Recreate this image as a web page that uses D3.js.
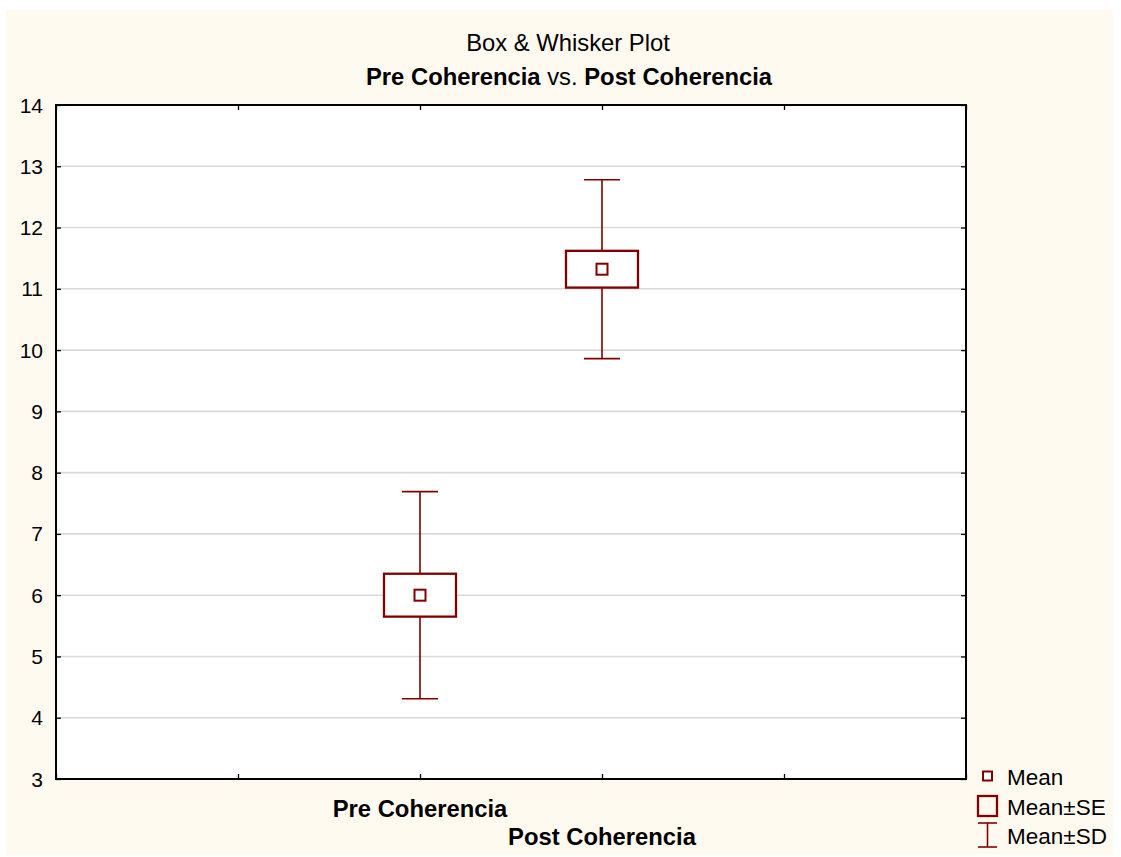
<!DOCTYPE html>
<html>
<head>
<meta charset="utf-8">
<script src="https://cdn.jsdelivr.net/npm/d3@7"></script>
<style>
  html, body { margin: 0; padding: 0; background: #ffffff; }
  svg { display: block; font-family: Arial, "Liberation Sans", sans-serif; }
</style>
</head>
<body>
<svg id="chart" width="1121" height="857"></svg>
<script>
// ---- data ----
const categories = ["Pre Coherencia", "Post Coherencia"];
const means = [6.00, 11.32];
const seValues = [0.35, 0.30];
const sdValues = [1.69, 1.46];
const yTickValues = [3, 4, 5, 6, 7, 8, 9, 10, 11, 12, 13, 14];
const titleLine1 = "Box & Whisker Plot";
const legendLabels = ["Mean", "Mean\u00b1SE", "Mean\u00b1SD"];

// ---- layout ----
const plot = { left: 56, right: 966, top: 105, bottom: 779 };
const dark = "#800000";

const svg = d3.select("#chart");

// cream background
svg.append("rect").attr("x", 6).attr("y", 10).attr("width", 1107).attr("height", 845)
  .attr("fill", "#fffaf0");

// plot area
svg.append("rect").attr("x", plot.left).attr("y", plot.top)
  .attr("width", plot.right - plot.left).attr("height", plot.bottom - plot.top)
  .attr("fill", "#ffffff");

const y = d3.scaleLinear().domain([3, 14]).range([plot.bottom, plot.top]);
const x = d3.scaleLinear().domain([-2, 3]).range([plot.left, plot.right]);
const xTickValues = d3.range(-2, 4);

// gridlines
svg.append("g").selectAll("line")
  .data(yTickValues.filter(v => v > 3 && v < 14))
  .join("line")
  .attr("x1", plot.left).attr("x2", plot.right)
  .attr("y1", d => y(d)).attr("y2", d => y(d))
  .attr("stroke", "#d9d9d9").attr("stroke-width", 1.6);

// axes (ticks inward, mirrored)
const tickLen = 5;
const leftAxis = d3.axisRight(y).tickValues(yTickValues).tickSize(tickLen).tickFormat("");
const rightAxis = d3.axisLeft(y).tickValues(yTickValues).tickSize(tickLen).tickFormat("");
const topAxis = d3.axisBottom(x).tickValues(xTickValues).tickSize(tickLen).tickFormat("");
const bottomAxis = d3.axisTop(x).tickValues(xTickValues).tickSize(tickLen).tickFormat("");

function styleAxis(g) {
  g.select(".domain").remove();
  g.selectAll(".tick line").attr("stroke", "#000").attr("stroke-width", 1.3);
}
svg.append("g").attr("transform", `translate(${plot.left},0)`).call(leftAxis).call(styleAxis);
svg.append("g").attr("transform", `translate(${plot.right},0)`).call(rightAxis).call(styleAxis);
svg.append("g").attr("transform", `translate(0,${plot.top})`).call(topAxis).call(styleAxis);
svg.append("g").attr("transform", `translate(0,${plot.bottom})`).call(bottomAxis).call(styleAxis);

// frame
svg.append("rect").attr("x", plot.left).attr("y", plot.top)
  .attr("width", plot.right - plot.left).attr("height", plot.bottom - plot.top)
  .attr("fill", "none").attr("stroke", "#000").attr("stroke-width", 2);

// y tick labels
svg.append("g").selectAll("text")
  .data(yTickValues)
  .join("text")
  .attr("x", 43).attr("y", d => y(d))
  .attr("dy", "0.36em")
  .attr("text-anchor", "end")
  .attr("font-size", 21)
  .attr("fill", "#000")
  .text(d => d);

// box & whiskers
const boxW = 72, capW = 36, meanSize = 11;
const groups = svg.append("g").selectAll("g")
  .data(categories.map((c, i) => ({ c, i, m: means[i], se: seValues[i], sd: sdValues[i] })))
  .join("g");

groups.append("line")
  .attr("x1", d => x(d.i)).attr("x2", d => x(d.i))
  .attr("y1", d => y(d.m + d.sd)).attr("y2", d => y(d.m + d.se))
  .attr("stroke", dark).attr("stroke-width", 1.6);
groups.append("line")
  .attr("x1", d => x(d.i)).attr("x2", d => x(d.i))
  .attr("y1", d => y(d.m - d.se)).attr("y2", d => y(d.m - d.sd))
  .attr("stroke", dark).attr("stroke-width", 1.6);
groups.append("line")
  .attr("x1", d => x(d.i) - capW / 2).attr("x2", d => x(d.i) + capW / 2)
  .attr("y1", d => y(d.m + d.sd)).attr("y2", d => y(d.m + d.sd))
  .attr("stroke", dark).attr("stroke-width", 1.6);
groups.append("line")
  .attr("x1", d => x(d.i) - capW / 2).attr("x2", d => x(d.i) + capW / 2)
  .attr("y1", d => y(d.m - d.sd)).attr("y2", d => y(d.m - d.sd))
  .attr("stroke", dark).attr("stroke-width", 1.6);
groups.append("rect")
  .attr("x", d => x(d.i) - boxW / 2)
  .attr("y", d => y(d.m + d.se))
  .attr("width", boxW)
  .attr("height", d => y(d.m - d.se) - y(d.m + d.se))
  .attr("fill", "#ffffff").attr("stroke", dark).attr("stroke-width", 2.3);
groups.append("rect")
  .attr("x", d => x(d.i) - meanSize / 2)
  .attr("y", d => y(d.m) - meanSize / 2)
  .attr("width", meanSize).attr("height", meanSize)
  .attr("fill", "#ffffff").attr("stroke", dark).attr("stroke-width", 2);

// category labels (staggered)
svg.append("g").selectAll("text")
  .data(categories)
  .join("text")
  .attr("x", (d, i) => x(i))
  .attr("y", (d, i) => i === 0 ? 817 : 845)
  .attr("text-anchor", "middle")
  .attr("font-size", 23.8)
  .attr("font-weight", "bold")
  .attr("fill", "#000")
  .text(d => d);

// titles
svg.append("text")
  .attr("x", 568).attr("y", 51)
  .attr("text-anchor", "middle")
  .attr("font-size", 23.8)
  .attr("fill", "#000")
  .text(titleLine1);

const t2 = svg.append("text")
  .attr("x", 569).attr("y", 85)
  .attr("text-anchor", "middle")
  .attr("font-size", 23.8)
  .attr("fill", "#000");
t2.append("tspan").attr("font-weight", "bold").text(categories[0]);
t2.append("tspan").text(" vs. ");
t2.append("tspan").attr("font-weight", "bold").text(categories[1]);

// legend
const lg = svg.append("g");
const lx = 987.5;
lg.append("rect").attr("x", lx - 4.5).attr("y", 771.5).attr("width", 9).attr("height", 9)
  .attr("fill", "#fff").attr("stroke", dark).attr("stroke-width", 2);
lg.append("rect").attr("x", lx - 9.5).attr("y", 796).attr("width", 19).attr("height", 20)
  .attr("fill", "none").attr("stroke", dark).attr("stroke-width", 2.3);
lg.append("line").attr("x1", lx).attr("x2", lx).attr("y1", 823).attr("y2", 847)
  .attr("stroke", dark).attr("stroke-width", 1.6);
lg.append("line").attr("x1", lx - 9.5).attr("x2", lx + 9.5).attr("y1", 823).attr("y2", 823)
  .attr("stroke", dark).attr("stroke-width", 1.6);
lg.append("line").attr("x1", lx - 9.5).attr("x2", lx + 9.5).attr("y1", 847).attr("y2", 847)
  .attr("stroke", dark).attr("stroke-width", 1.6);
lg.selectAll("text.lab")
  .data(legendLabels)
  .join("text")
  .attr("class", "lab")
  .attr("x", 1007)
  .attr("y", (d, i) => [785, 815, 844][i])
  .attr("font-size", 22.5)
  .attr("fill", "#000")
  .text(d => d);
</script>
</body>
</html>
